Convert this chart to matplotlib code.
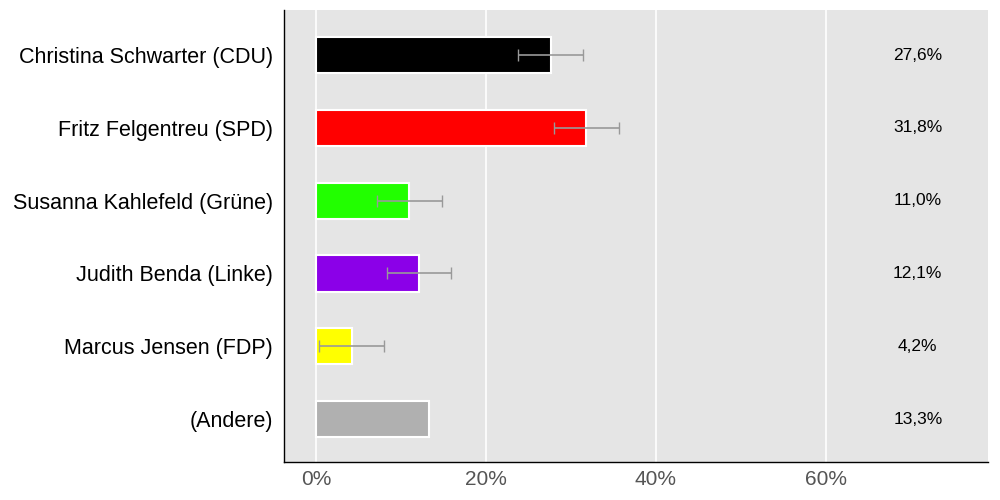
import matplotlib
matplotlib.use("Agg")
import matplotlib.pyplot as plt

plt.rcParams['font.family'] = ['Liberation Sans', 'DejaVu Sans']

candidates = ["Christina Schwarter (CDU)", "Fritz Felgentreu (SPD)", "Susanna Kahlefeld (Grüne)",
              "Judith Benda (Linke)", "Marcus Jensen (FDP)", "(Andere)"]
values = [27.6, 31.8, 11.0, 12.1, 4.2, 13.3]
errors = [3.8, 3.8, 3.8, 3.8, 3.8, None]
colors = ["#000000", "#ff0000", "#22ff00", "#8b00e8", "#ffff00", "#b0b0b0"]
labels = ["27,6%", "31,8%", "11,0%", "12,1%", "4,2%", "13,3%"]
xticks = [0, 20, 40, 60]
xticklabels = ["0%", "20%", "40%", "60%"]

fig = plt.figure(figsize=(10, 5), dpi=100)
ax = fig.add_axes([0.284, 0.076, 0.704, 0.904])
ax.set_facecolor("#e5e5e5")
ys = list(range(len(candidates)))
ax.barh(ys, values, height=0.5, color=colors, edgecolor="white", linewidth=1.5, zorder=3)
for y, v, e in zip(ys, values, errors):
    if e is not None:
        ax.errorbar(v, y, xerr=e, fmt='none', ecolor="#999999", elinewidth=1.2, capsize=4, zorder=4)
for y, l in zip(ys, labels):
    ax.text(70.8, y, l, ha="center", va="center", fontsize=12.5, color="black", zorder=5)
ax.set_xlim(-3.76, 79.06)
ax.set_ylim(len(candidates) - 1 + 0.59, -0.62)
ax.set_yticks(ys)
ax.set_yticklabels(candidates, fontsize=15.5)
ax.set_xticks(xticks)
ax.set_xticklabels(xticklabels, fontsize=15, color="#555555")
ax.grid(axis="x", color="white", linewidth=1.2, zorder=0)
ax.tick_params(axis="y", length=0, pad=8)
ax.tick_params(axis="x", length=0, pad=6)
for s in ["top", "right"]:
    ax.spines[s].set_visible(False)
ax.spines["left"].set_linewidth(1)
ax.spines["bottom"].set_linewidth(1)
fig.savefig("out.png", dpi=100)
